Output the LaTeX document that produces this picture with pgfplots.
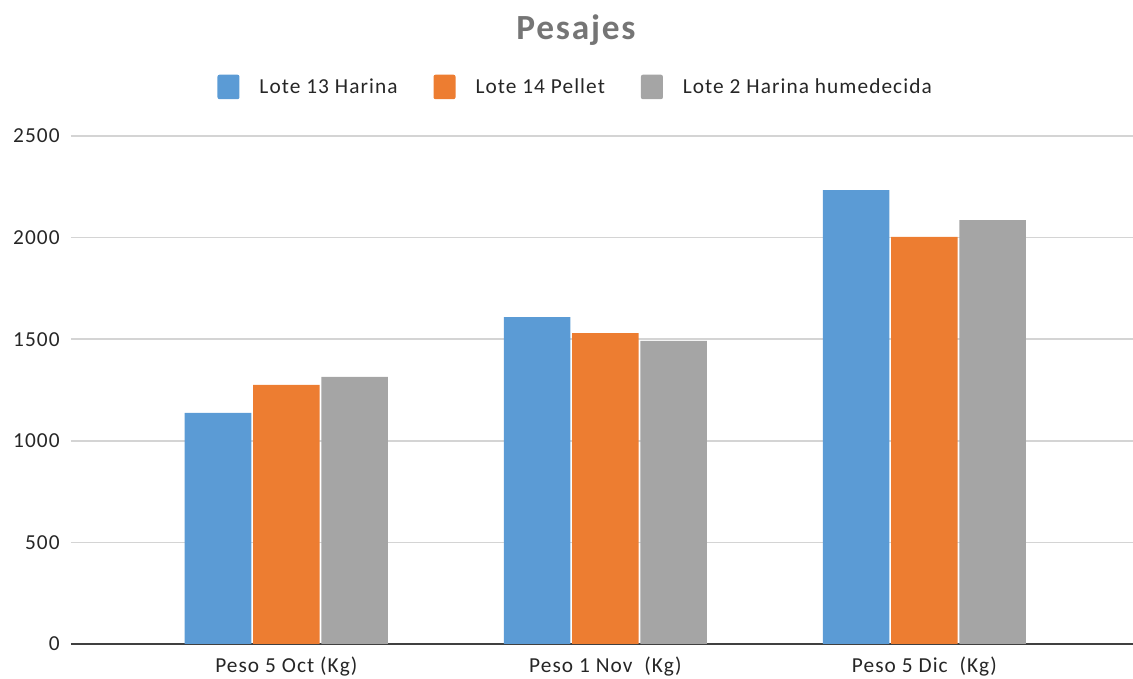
\documentclass[border=0pt]{standalone}
\usepackage{pgfplots}
\pgfplotsset{compat=1.18}
\usepackage{fontspec}
\setmainfont{Carlito}[LetterSpace=5]
\definecolor{cblue}{HTML}{5B9BD5}
\definecolor{corange}{HTML}{ED7D31}
\definecolor{cgray}{HTML}{A5A5A5}
\definecolor{ctitle}{HTML}{757575}
\definecolor{cgrid}{HTML}{D4D4D4}
\definecolor{caxis}{HTML}{404040}
\definecolor{ctext}{HTML}{262626}
\begin{document}
\begin{tikzpicture}
\begin{axis}[
  width=796.5pt, height=381pt, scale only axis,
  xmin=-0.675, xmax=2.654,
  ymin=0, ymax=2500,
  ybar=1.2pt, bar width=50pt,
  xtick={0,1,2},
  xticklabels={Peso 5 Oct (Kg),Peso 1 Nov\ \ (Kg),Peso 5 Dic\ \ (Kg)},
  ytick={0,500,1000,1500,2000,2500},
  /pgf/number format/assume math mode=true,
  /pgf/number format/1000 sep={},
  tick label style={font=\fontsize{16pt}{18pt}\selectfont, text=ctext},
  xticklabel style={yshift=-6pt},
  yticklabel style={xshift=-5pt},
  major tick length=0pt,
  ymajorgrids, grid style={cgrid, line width=1.1pt},
  axis x line*=bottom, axis y line*=left,
  y axis line style={draw=none},
  x axis line style={caxis, line width=1.3pt, -},
  title={Pesajes},
  title style={at={(0.4755,1.175)}, anchor=base, font=\fontsize{26.5pt}{30pt}\selectfont\bfseries, text=ctitle},
  legend columns=3,
  legend style={at={(0.4755,1.0965)}, anchor=center, draw=none, fill=none,
    font=\fontsize{16pt}{18pt}\selectfont, text=ctext,
    /tikz/every odd column/.append style={column sep=13pt},
    /tikz/every even column/.append style={column sep=25pt},
    nodes={inner sep=2pt}},
  legend image code/.code={\fill[#1, rounded corners=1.5pt] (0pt,-9.2pt) rectangle (16.5pt,9.2pt);},
]
\addplot[fill=cblue, draw=none] coordinates {(0,1137) (1,1609) (2,2234)};
\addplot[fill=corange, draw=none] coordinates {(0,1275) (1,1530) (2,2004)};
\addplot[fill=cgray, draw=none] coordinates {(0,1314) (1,1492) (2,2086)};
\legend{Lote 13 Harina, Lote 14 Pellet, Lote 2 Harina humedecida}
\end{axis}
\pgfresetboundingbox
\path[use as bounding box] ([xshift=-53.25pt,yshift=-26.25pt]current axis.south west) rectangle ([yshift=102pt]current axis.north east);
\end{tikzpicture}
\end{document}
